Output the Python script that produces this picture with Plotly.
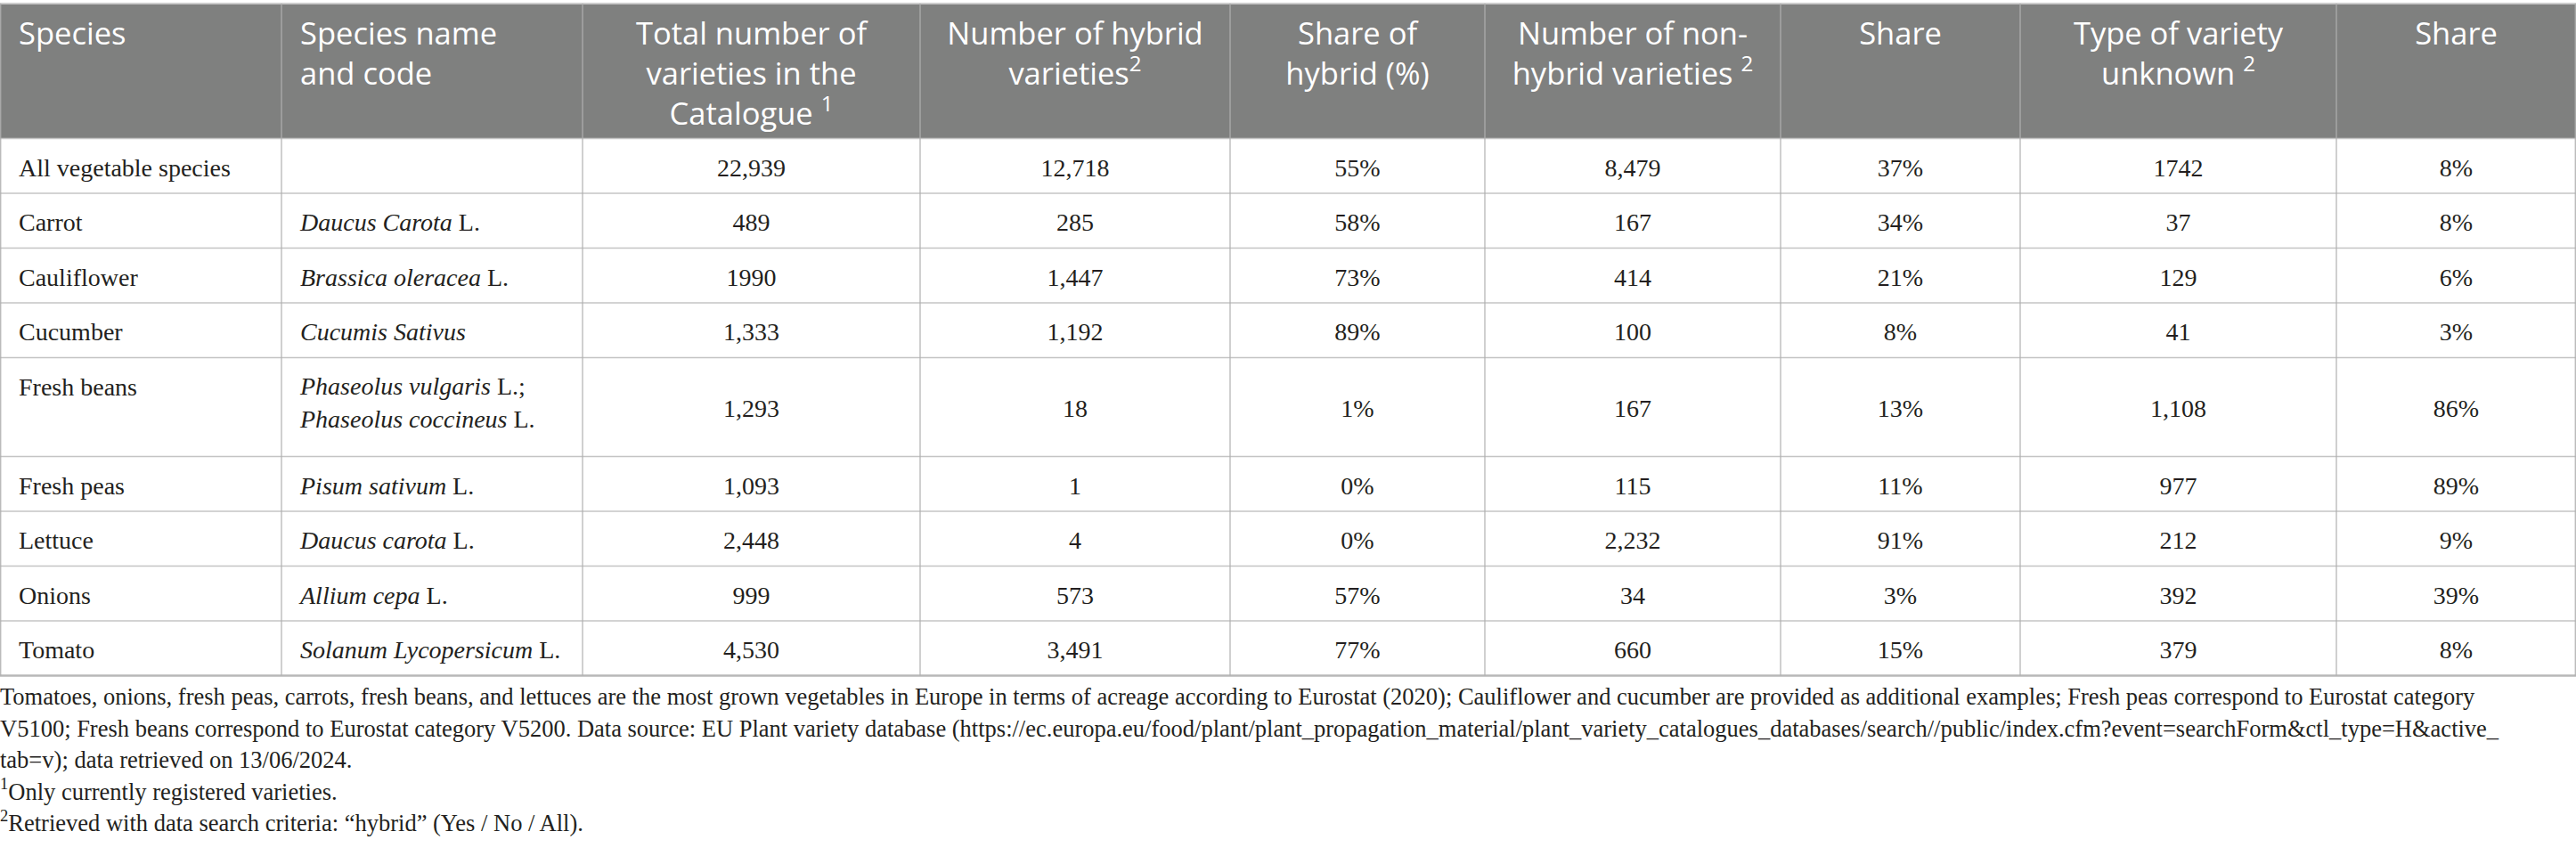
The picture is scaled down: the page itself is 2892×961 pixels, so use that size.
import plotly.graph_objects as go

# 表格数据（按行顺序）
species = ["All vegetable species", "Carrot", "Cauliflower", "Cucumber", "Fresh beans",
           "Fresh peas", "Lettuce", "Onions", "Tomato"]
species_name = ["", "<i>Daucus Carota</i> L.", "<i>Brassica oleracea</i> L.", "<i>Cucumis Sativus</i>",
                "<i>Phaseolus vulgaris</i> L.;<br><i>Phaseolus coccineus</i> L.", "<i>Pisum sativum</i> L.",
                "<i>Daucus carota</i> L.", "<i>Allium cepa</i> L.", "<i>Solanum Lycopersicum</i> L."]
total_varieties = ["22,939", "489", "1990", "1,333", "1,293", "1,093", "2,448", "999", "4,530"]
hybrid = ["12,718", "285", "1,447", "1,192", "18", "1", "4", "573", "3,491"]
hybrid_share = ["55%", "58%", "73%", "89%", "1%", "0%", "0%", "57%", "77%"]
non_hybrid = ["8,479", "167", "414", "100", "167", "115", "2,232", "34", "660"]
non_hybrid_share = ["37%", "34%", "21%", "8%", "13%", "11%", "91%", "3%", "15%"]
unknown = ["1742", "37", "129", "41", "1,108", "977", "212", "392", "379"]
unknown_share = ["8%", "8%", "6%", "3%", "86%", "89%", "9%", "39%", "8%"]

# 表头（每列按行拆开）
header_lines = [
    ["Species"],
    ["Species name", "and code"],
    ["Total number of", "varieties in the", "Catalogue <sup>1</sup>"],
    ["Number of hybrid", "varieties<sup>2</sup>"],
    ["Share of", "hybrid (%)"],
    ["Number of non-", "hybrid varieties <sup>2</sup>"],
    ["Share"],
    ["Type of variety", "unknown <sup>2</sup>"],
    ["Share"],
]

# 脚注
notes = [
    "Tomatoes, onions, fresh peas, carrots, fresh beans, and lettuces are the most grown vegetables in Europe "
    "in terms of acreage according to Eurostat (2020); Cauliflower and cucumber are provided as additional "
    "examples; Fresh peas correspond to Eurostat category",
    "V5100; Fresh beans correspond to Eurostat category V5200. Data source: EU Plant variety database "
    "(https://ec.europa.eu/food/plant/plant_propagation_material/plant_variety_catalogues_databases/search//"
    "public/index.cfm?event=searchForm&amp;ctl_type=H&amp;active_",
    "tab=v); data retrieved on 13/06/2024.",
    "<sup>1</sup>Only currently registered varieties.",
    "<sup>2</sup>Retrieved with data search criteria: \u201chybrid\u201d (Yes / No / All).",
]

columns = [species, species_name, total_varieties, hybrid, hybrid_share,
           non_hybrid, non_hybrid_share, unknown, unknown_share]
col_align = ["left", "left"] + ["center"] * 7

# 版式参数
W, H = 2892, 961
col_widths = [316, 338, 379, 348, 286, 332, 269, 355, 269]
header_top = 4
header_h = 151.5
row_h = 61.5
extra_line_h = 49.5
pad = 21
body_size = 28
head_size = 34.5
note_size = 26.5
head_baseline = 50
note_baselines = [791, 826.5, 862, 897.5, 933]
body_font = "Liberation Serif"
head_font = "Open Sans"
text_color = "#231f20"
grid_color = "#c4c4c4"


def first_line_y(baseline, n_lines, size):
    # 中间对齐的多行文字，让第一行落在给定基线上
    eff = (n_lines - 1) * 1.3 + 1
    return baseline - 0.75 * size + eff * size / 2


col_left = [sum(col_widths[:i]) for i in range(len(col_widths))]
n_rows = len(species)
row_lines = [max(c[r].count("<br>") + 1 for c in columns) for r in range(n_rows)]
row_heights = [row_h + (n - 1) * extra_line_h for n in row_lines]
row_tops = [header_top + header_h + sum(row_heights[:r]) for r in range(n_rows)]
table_bottom = row_tops[-1] + row_heights[-1]

fig = go.Figure()

# 表格单元格文字
for j, col in enumerate(columns):
    rows = [r for r in range(n_rows) if col[r]]
    if col_align[j] == "left":
        xs = [col_left[j] + pad] * len(rows)
        ys = [first_line_y(row_tops[r] + 42, col[r].count("<br>") + 1, body_size) for r in rows]
        pos = "middle right"
    else:
        xs = [col_left[j] + col_widths[j] / 2] * len(rows)
        ys = [row_tops[r] + row_heights[r] / 2 + 11.25 - 0.25 * body_size for r in rows]
        pos = "middle center"
    fig.add_trace(go.Scatter(x=xs, y=ys, text=[col[r] for r in rows], mode="text", textposition=pos,
                             textfont=dict(family=body_font, size=body_size, color=text_color),
                             hoverinfo="skip"))

# 表头文字
hx, hy, hp = [], [], []
for j, lines in enumerate(header_lines):
    if col_align[j] == "left":
        hx.append(col_left[j] + pad)
        hp.append("middle right")
    else:
        hx.append(col_left[j] + col_widths[j] / 2)
        hp.append("middle center")
    hy.append(first_line_y(head_baseline, len(lines), head_size))
fig.add_trace(go.Scatter(x=hx, y=hy, text=["<br>".join(l) for l in header_lines], mode="text",
                         textposition=hp,
                         textfont=dict(family=head_font, size=head_size, color="white"),
                         hoverinfo="skip"))

# 脚注
fig.add_trace(go.Scatter(x=[0] * len(notes), y=[b - 0.25 * note_size for b in note_baselines],
                         text=notes, mode="text", textposition="middle right",
                         textfont=dict(family=body_font, size=note_size, color=text_color),
                         hoverinfo="skip"))

# 表头底色和网格线
shapes = [dict(type="rect", xref="x", yref="y", x0=0, x1=W, y0=header_top, y1=header_top + header_h,
               fillcolor="#7f807f", line=dict(width=0), layer="below")]
for y in [header_top + header_h] + row_tops[1:]:
    shapes.append(dict(type="line", xref="x", yref="y", x0=0, x1=W, y0=y, y1=y,
                       line=dict(color=grid_color, width=1.5)))
shapes.append(dict(type="line", xref="x", yref="y", x0=0, x1=W, y0=header_top, y1=header_top,
                   line=dict(color="#cccccc", width=2)))
shapes.append(dict(type="line", xref="x", yref="y", x0=0, x1=W, y0=table_bottom, y1=table_bottom,
                   line=dict(color="#b8b8b8", width=2.5)))
for x in [0.75] + col_left[1:] + [W - 0.75]:
    shapes.append(dict(type="line", xref="x", yref="y", x0=x, x1=x, y0=header_top, y1=table_bottom,
                       line=dict(color="#b0b0b0", width=1.2)))

fig.update_layout(
    width=W, height=H, autosize=False,
    margin=dict(l=0, r=0, t=0, b=0),
    paper_bgcolor="white", plot_bgcolor="white",
    showlegend=False,
    xaxis=dict(range=[0, W], visible=False, fixedrange=True),
    yaxis=dict(range=[H, 0], visible=False, fixedrange=True),
    shapes=shapes,
)

fig.write_html("out.html", config={"displayModeBar": False},
               post_script="document.body.style.margin='0';")
